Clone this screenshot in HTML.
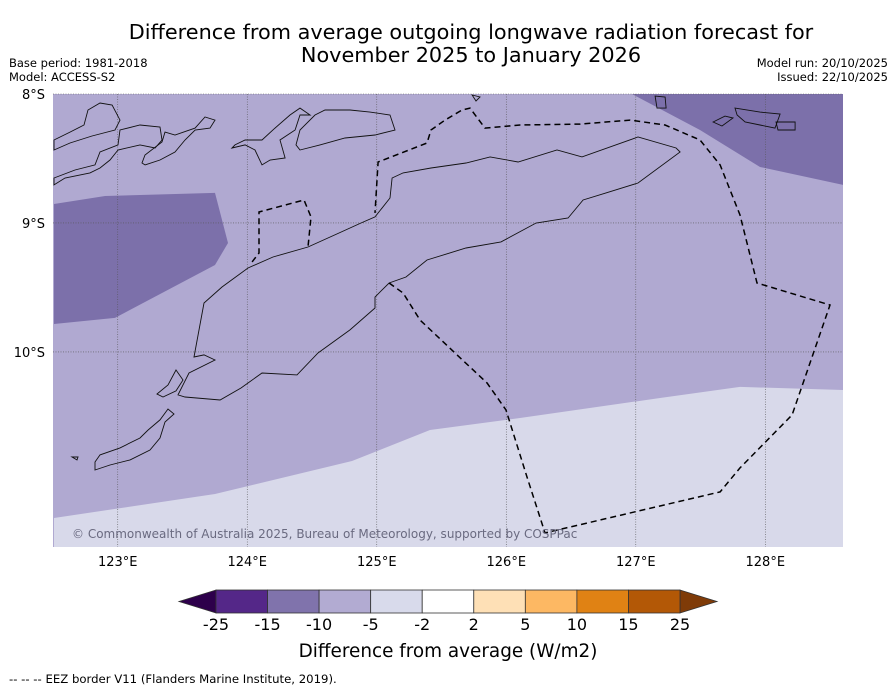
<!DOCTYPE html>
<html><head><meta charset="utf-8"><style>
body{margin:0;background:#fff;}
svg text{font-family:"DejaVu Sans","Liberation Sans",sans-serif;}
</style></head><body>
<svg id="chart" width="896" height="690" xmlns="http://www.w3.org/2000/svg">
<text x="471" y="39" font-size="20.8" text-anchor="middle">Difference from average outgoing longwave radiation forecast for</text>
<text x="471" y="62" font-size="20.8" text-anchor="middle">November 2025 to January 2026</text>
<text x="9" y="67" font-size="11.5">Base period: 1981-2018</text>
<text x="9" y="81" font-size="11.5">Model: ACCESS-S2</text>
<text x="888" y="67" font-size="11.5" text-anchor="end">Model run: 20/10/2025</text>
<text x="888" y="81" font-size="11.5" text-anchor="end">Issued: 22/10/2025</text>
<g id="map"></g>
<g id="cbar"></g>
<text x="448" y="657" font-size="18.4" text-anchor="middle">Difference from average (W/m2)</text>
<text x="9" y="683" font-size="11.7">--  --  -- EEZ border V11 (Flanders Marine Institute, 2019).</text>
</svg>
<script>
// map extent
const lonMin=122.5, lonMax=128.6, latTop=8.0, latBot=11.512;
const lonTicks=[123,124,125,126,127,128];
const latTicks=[8,9,10];
// colorbar
const cbBounds=[-25,-15,-10,-5,-2,2,5,10,15,25];
const cbColors=['#542788','#8073ac','#b2abd2','#d8daeb','#ffffff','#fee0b6','#fdb863','#e08214','#b35806'];
const cbUnder='#2d004b', cbOver='#7f3b08';
// anomaly regions (pixel-digitised then converted) [lon, latS]
function P(a){return a.map(p=>[+(122.5+(p[0]-53)/129.5).toFixed(3),+(8+(p[1]-94)/129).toFixed(3)]);}
const regionDark1=P([[54,204],[105,196],[215,193],[228,243],[215,265],[115,318],[54,324]]);
const regionDark2=P([[632,94],[843,94],[843,185],[760,167],[700,130]]);
const regionLight=P([[54,518],[215,494],[352,461],[430,430],[520,418],[660,398],[740,387],[843,390],[843,547],[54,547]]);
const timor=P([[194,357],[204,303],[222,287],[248,268],[273,257],[308,247],[339,233],[361,223],[375,217],[390,198],[392,178],[403,173],[431,168],[466,163],[490,157],[518,162],[557,150],[582,157],[638,137],[676,148],[680,152],[638,183],[606,193],[583,200],[568,218],[536,223],[501,242],[466,248],[427,260],[406,277],[389,283],[375,297],[375,308],[350,330],[318,353],[297,375],[262,373],[241,388],[220,400],[185,397],[178,395],[189,373],[215,360],[204,355]]);
const islands=[
P([[54,150],[70,143],[92,136],[115,130],[120,120],[112,105],[100,103],[88,110],[84,125],[70,132],[54,140]]),
P([[54,185],[65,178],[90,173],[100,168],[110,160],[118,150],[140,145],[155,148],[162,140],[160,127],[140,125],[120,130],[118,145],[100,152],[95,165],[75,170],[54,178]]),
P([[145,165],[160,160],[175,152],[185,140],[195,130],[210,128],[215,120],[205,117],[195,128],[175,135],[165,132],[162,142],[145,155],[142,163]]),
P([[232,148],[245,145],[255,150],[262,165],[270,160],[285,158],[280,140],[295,130],[300,115],[310,115],[300,108],[290,115],[275,128],[262,140],[245,140],[235,145]]),
P([[300,150],[320,145],[345,138],[375,135],[395,130],[390,115],[370,112],[350,110],[325,110],[315,115],[300,130],[296,145]]),
P([[735,108],[760,112],[780,114],[775,128],[760,125],[745,122],[737,115]]),
P([[776,122],[795,122],[795,130],[778,130]]),
P([[655,96],[665,97],[666,108],[657,108]]),
P([[713,122],[725,116],[733,118],[722,126]]),
P([[472,95],[480,97],[476,101]]),
P([[157,394],[168,385],[176,370],[183,380],[176,391],[163,397]]),
P([[95,470],[110,465],[130,460],[150,450],[160,438],[165,422],[174,414],[168,409],[160,420],[148,430],[140,438],[120,448],[100,455],[95,462]]),
P([[72,457],[78,457],[77,460]])
];
const eez=[
P([[389,283],[403,293],[420,320],[455,353],[487,383],[506,410],[527,477],[545,533],[720,492],[740,468],[792,415],[830,305],[757,283],[740,215],[720,165],[700,140],[665,125],[630,120],[580,124],[520,125],[485,128],[470,108],[462,110],[445,120],[431,130],[427,143],[378,162],[375,213]]),
P([[252,262],[259,253],[259,212],[304,200],[311,217],[308,247]])
];
const NS='http://www.w3.org/2000/svg';
const x0=53,x1=843,y0=94,y1=547;
function xS(l){return x0+(l-lonMin)/(lonMax-lonMin)*(x1-x0);}
function yS(l){return y0+(l-latTop)/(latBot-latTop)*(y1-y0);}
function pts(a){return a.map(p=>xS(p[0]).toFixed(1)+','+yS(p[1]).toFixed(1)).join(' ');}
function mk(tag,attrs,parent){const e=document.createElementNS(NS,tag);for(const k in attrs)e.setAttribute(k,attrs[k]);parent.appendChild(e);return e;}
const map=document.getElementById('map');
let e=mk('rect',{x:x0,y:y0,width:x1-x0,height:y1-y0,fill:'#b0a9d1'},map);


e=mk('polygon',{points:pts(regionDark1),fill:'#7c70aa'},map);


e=mk('polygon',{points:pts(regionDark2),fill:'#7c70aa'},map);


e=mk('polygon',{points:pts(regionLight),fill:'#d8d9ea'},map);


lonTicks.forEach(l=>{
 const g=mk('line',{x1:xS(l),x2:xS(l),y1:y0,y2:y1,stroke:'#555','stroke-width':0.6,'stroke-dasharray':'1,1.5'},map);
 
 
 const t=mk('text',{x:xS(l),y:566,'font-size':13,'text-anchor':'middle'},map);t.textContent=l+'°E';
 
 
});
latTicks.forEach(l=>{
 const g=mk('line',{x1:x0,x2:x1,y1:yS(l),y2:yS(l),stroke:'#555','stroke-width':0.6,'stroke-dasharray':'1,1.5'},map);
 
 
 const t=mk('text',{x:45,y:yS(l)+5,'font-size':13,'text-anchor':'end'},map);t.textContent=l+'°S';
 
 
});
islands.concat([timor]).forEach(a=>{
 const p=mk('polygon',{points:pts(a),fill:'none',stroke:'#111','stroke-width':0.9},map);
 
 
});
eez.forEach(a=>{
 const p=mk('polyline',{points:pts(a),fill:'none',stroke:'#000','stroke-width':1.5,'stroke-dasharray':'6,4'},map);
 
 
});
e=mk('text',{x:72,y:538,'font-size':12,fill:'#6a6a80'},map);e.textContent='© Commonwealth of Australia 2025, Bureau of Meteorology, supported by COSPPac';


// colorbar
const cb=document.getElementById('cbar');
const cbx0=216,cbx1=680,cby=590,cbh=23,seg=(cbx1-cbx0)/cbColors.length;
e=mk('polygon',{points:`${cbx0},${cby} ${cbx0},${cby+cbh} 179,${cby+cbh/2}`,fill:cbUnder,stroke:'#333','stroke-width':0.8},cb);


e=mk('polygon',{points:`${cbx1},${cby} ${cbx1},${cby+cbh} 717,${cby+cbh/2}`,fill:cbOver,stroke:'#333','stroke-width':0.8},cb);


cbColors.forEach((c,i)=>{
 const r=mk('rect',{x:cbx0+i*seg,y:cby,width:seg,height:cbh,fill:c,stroke:'#333','stroke-width':0.8},cb);
 
 
});
cbBounds.forEach((b,i)=>{
 const t=mk('text',{x:cbx0+i*seg,y:630,'font-size':16,'text-anchor':'middle'},cb);t.textContent=b;
 
 
});
</script>
</body></html>
